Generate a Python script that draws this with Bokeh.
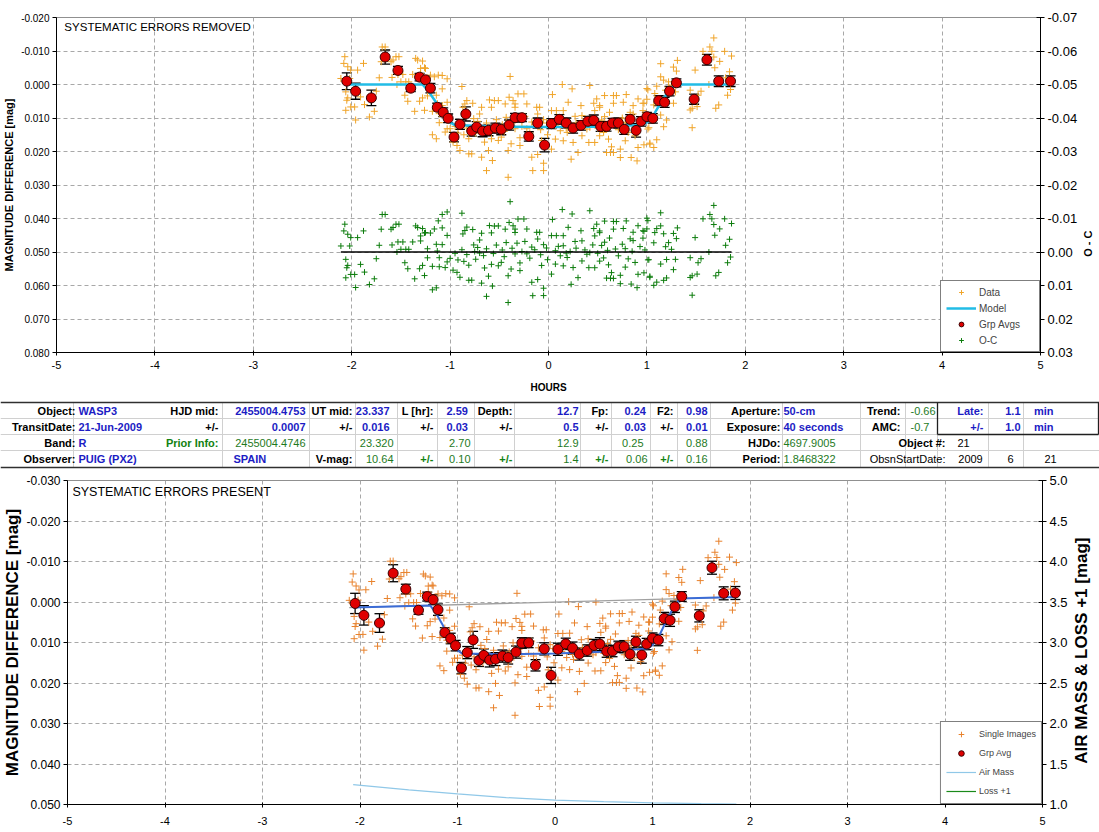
import math
import numpy as np
from bokeh.plotting import figure
from bokeh.models import (Range1d, LinearAxis, FixedTicker, NumeralTickFormatter,
                          Whisker, TeeHead, ColumnDataSource, Legend, LegendItem, Label)
from bokeh.layouts import column, row
from bokeh.embed import file_html
from bokeh.resources import INLINE
from bokeh.core.properties import value

# ---------------- DATA ----------------
# single images (systematic errors removed), hours from mid-transit, mmag
pre_hours = [-2.07, -2.08, -2.04, -2.01, -1.94, -1.88, -2.11, -2.02, -2.06, -2.04,
             -2.05, -2.01, -1.97, -2.06, -1.96, -1.91, -1.87, -1.82, -1.77, -1.75,
             -1.72, -1.69, -1.66, -1.70, -1.60, -1.58, -1.55, -1.52, -1.59, -1.53,
             -1.48, -1.54, -1.50, -1.45, -1.42, -1.38, -1.35, -1.33, -1.28, -1.30,
             -1.26, -1.25, -1.30, -1.20, -1.16, -1.12, -1.46, -1.43, -1.31, -1.28,
             -1.23, -1.36, -1.26, -1.18, -1.14, -1.13, -1.11, -1.11, -1.18, -1.14,
             -1.23]
pre_mmag = [-8.3, -6.3, -5.3, -4.3, -4.3, -6.3, -1.8, -1.8, 2.2, 4.0,
            4.7, 6.7, 6.7, 7.7, 10.6, 3.7, 6.0, 9.7, 8.0, 2.0,
            -2.0, -11.2, -11.2, -6.8, -6.8, -7.3, -8.3, -8.3, -2.1, -3.0,
            -3.0, 0.0, -0.8, -0.8, -0.8, -3.0, -7.8, -7.3, -7.0, -4.8,
            -5.0, -4.8, -3.3, -2.8, -2.3, -2.8, 3.2, 5.0, 5.0, 4.0,
            3.4, 8.0, 7.7, 8.0, 3.2, 5.7, 8.7, 11.4, 15.0, 16.2,
            0.7]
early_hours = [-1.08, -1.03, -1.08, -1.03, -1.08, -1.03, -1.05, -1.00, -0.97, -0.93,
               -0.90, -0.88, -0.87, -0.83, -0.85, -0.77, -0.76, -0.81, -0.78, -0.81,
               -0.75, -0.70, -0.68, -0.60, -0.58, -0.55, -0.51, -0.70, -0.65, -0.61,
               -0.58, -0.68, -0.57, -0.63, -0.51, -0.48, -0.44, -0.43, -0.39, -0.40,
               -0.36, -0.34, -0.31, -0.25, -0.22, -0.41, -0.38, -0.29, -0.34, -0.29,
               -0.22, -0.17, -0.17, -0.16, -0.41, -0.12, -0.09, -0.11, -0.05, -0.07,
               -0.11, -0.05, -0.05, -0.34,
               -0.95, -0.92, -0.88, -0.86, -0.83, -0.74, -0.72, -0.66, -0.63, -0.56,
               -0.53, -0.47, -0.45, -0.37, -0.32, -0.27, -0.24, -0.19, -0.14, -0.08,
               -0.02, -0.01]
early_mmag = [-2.7, -1.7, 1.3, 5.3, 6.3, 13.2, 14.2, 13.2, 17.2, 18.2,
              19.7, 0.6, 6.8, 4.8, 5.8, 5.6, 10.2, 16.2, 20.7, 20.7,
              12.2, 8.8, 6.8, 4.6, 6.8, 4.8, 4.8, 12.7, 17.2, 19.7,
              16.2, 21.7, 22.7, 25.7, 16.7, 15.7, 5.8, 9.8, -2.4, 3.8,
              4.8, 5.8, 2.8, 2.8, 5.8, 19.7, 17.7, 18.2, 13.2, 15.9,
              13.2, 11.2, 21.7, 25.7, 27.7, 6.8, 6.8, 8.8, 10.5, 16.7,
              20.9, 23.5, 25.7, 6.8,
              12.5, 14.5, 11.5, 15.0, 13.0, 14.5, 11.0, 13.5, 11.5, 13.0,
              10.5, 12.0, 14.0, 11.5, 10.0, 12.5, 9.5, 14.5, 12.0, 13.5,
              11.5, 15.0]
late_hours = [0.14, 0.42, 0.24, 0.04, 0.20, 0.33, 0.46, 0.49, 0.52, 0.57,
              0.66, 0.69, 0.66, 0.79, 0.91, 0.96, 1.01, 0.76, 0.86, 0.03,
              0.08, 0.15, 0.34, 0.47, 0.52, 0.57, 0.62, 0.83, 0.86, 0.96,
              0.07, 0.12, 0.07, 0.15, 0.19, 0.25, 0.34, 0.39, 0.41, 0.47,
              0.52, 0.56, 0.61, 0.64, 0.66, 0.73, 0.78, 0.81, 0.88, 0.91,
              0.84, 0.90, 0.73, 0.59, 0.63, 0.30, 0.23, 0.03, 0.15, 1.01,
              1.03, 0.54, 0.78, 0.98, 0.42,
              0.10, 0.22, 0.28, 0.37, 0.45, 0.50, 0.60, 0.68, 0.71, 0.75,
              0.85, 0.93, 0.27, 0.18]
late_mmag = [0.0, 0.3, 1.3, 3.0, 5.3, 6.3, 5.6, 4.3, 6.3, 3.3,
             3.3, 3.3, 5.6, 3.0, 4.3, 5.6, 1.6, 5.3, 6.3, 7.8,
             7.8, 7.8, 9.3, 7.8, 6.8, 9.6, 8.3, 8.3, 8.8, 7.8,
             12.3, 13.8, 16.3, 16.8, 14.3, 17.3, 15.3, 13.3, 17.3, 17.3,
             15.3, 14.3, 16.3, 18.6, 20.3, 19.3, 16.8, 14.3, 15.3, 18.8,
             21.8, 22.8, 21.8, 20.3, 20.3, 20.3, 22.3, 19.3, 10.8, 13.3,
             17.8, 10.6, 11.3, 11.0, 12.8,
             11.0, 12.5, 11.5, 12.0, 10.5, 13.0, 12.0, 11.5, 13.5, 10.0,
             12.0, 10.5, 9.5, 13.0]
post_hours = [1.68, 1.64, 1.66, 1.57, 1.79, 1.68, 1.74, 1.69, 1.84, 1.82,
              1.73, 1.70, 1.80, 1.49, 1.63, 1.44, 1.55, 1.52, 1.46, 1.44,
              1.51, 1.46, 1.14, 1.31, 1.27, 1.30, 1.14, 1.17, 1.22, 1.25,
              1.10, 1.00, 1.19, 1.08, 1.29, 1.00, 1.07, 1.20, 1.27, 0.97,
              1.14, 1.20, 1.17, 1.02, 1.10, 1.03, 1.07, 0.97, 1.86, 1.85]
post_mmag = [-13.9, -11.2, -9.9, -9.9, -9.9, -8.2, -6.9, -5.0, -3.8, 3.2,
             6.1, 7.1, -2.0, -4.3, 0.0, 1.7, 2.0, 3.2, 7.1, 7.6,
             6.6, 12.9, -6.2, -7.2, -5.2, -4.0, -2.3, -1.3, -0.8, 0.2,
             0.5, 1.2, 1.7, 2.7, 2.2, 4.4, 6.1, 5.1, 5.6, 5.6,
             9.1, 10.6, 12.6, 12.9, 16.5, 17.5, 18.8, 18.0, -8.5, 1.5]

# group averages (systematic errors removed), mmag
grp_hours = [-2.05, -1.96, -1.80, -1.66, -1.53, -1.40, -1.31, -1.25, -1.20, -1.13,
             -1.07, -1.02, -0.96, -0.90, -0.84, -0.78, -0.73, -0.67, -0.61, -0.54,
             -0.48, -0.40, -0.34, -0.27, -0.20, -0.11, -0.04, 0.03, 0.11, 0.18,
             0.25, 0.33, 0.40, 0.46, 0.53, 0.59, 0.65, 0.71, 0.77, 0.83,
             0.89, 0.94, 1.00, 1.06, 1.12, 1.18, 1.23, 1.30, 1.48, 1.61,
             1.73, 1.85]
grp_mmag = [-1.0, 2.0, 4.0, -8.2, -4.2, 1.1, -2.2, -1.4, 1.1, 6.8,
            8.3, 10.1, 15.7, 11.9, 8.8, 13.9, 12.7, 13.9, 13.7, 13.0,
            13.4, 12.1, 9.9, 9.9, 15.5, 11.5, 18.1, 11.7, 10.4, 11.5,
            13.0, 12.2, 11.0, 10.7, 12.5, 12.5, 11.5, 11.5, 13.4, 10.4,
            13.7, 11.0, 9.6, 10.1, 4.8, 5.3, 2.0, -0.5, 4.4, -7.4,
            -1.0, -1.0]
grp_err = [2.5, 2.4, 2.3, 2.1, 1.2, 1.0, 1.1, 1.2, 1.4, 1.2,
           1.3, 1.3, 1.4, 1.5, 2.1, 1.5, 1.6, 1.7, 1.6, 1.5,
           1.6, 1.5, 1.3, 1.2, 1.4, 1.5, 2.0, 1.5, 1.4, 1.5,
           1.5, 1.4, 1.5, 1.6, 1.5, 1.4, 1.4, 1.5, 1.5, 1.4,
           2.0, 1.4, 1.3, 1.4, 1.5, 1.5, 1.4, 1.2, 1.5, 1.6,
           1.6, 1.6]

# transit model, mmag
model_hours = [-2.07, -1.28, -1.22, -1.15, -1.08, -1.00, -0.95, -0.50, 0.00, 0.50,
               0.95, 1.00, 1.08, 1.15, 1.22, 1.28, 1.86]
model_mmag = [0.0, 0.0, 2.0, 5.0, 8.5, 11.3, 12.1, 12.6, 12.7, 12.6,
              12.1, 11.3, 8.5, 5.0, 2.0, 0.0, 0.0]

TREND = -0.66  # mmag per hour (systematic trend present in raw data)

airmass_hours = [-2.07, -1.5, -1.0, -0.5, 0.0, 0.5, 1.0, 1.5, 1.86]
airmass = [1.245, 1.18, 1.13, 1.085, 1.055, 1.035, 1.02, 1.01, 1.005]
loss_hours = [-2.07, 1.86]
loss = [0.0, 0.0]

x_ticks = [-5, -4, -3, -2, -1, 0, 1, 2, 3, 4, 5]
top_y_ticks = [-0.02, -0.01, 0.0, 0.01, 0.02, 0.03, 0.04, 0.05, 0.06, 0.07, 0.08]
oc_ticks = [-0.07, -0.06, -0.05, -0.04, -0.03, -0.02, -0.01, 0.0, 0.01, 0.02, 0.03]
bot_y_ticks = [-0.03, -0.02, -0.01, 0.0, 0.01, 0.02, 0.03, 0.04, 0.05]
am_ticks = [1.0, 1.5, 2.0, 2.5, 3.0, 3.5, 4.0, 4.5, 5.0]

TABLE_ROW1 = ["Object:", "WASP3", "HJD mid:", "2455004.4753", "UT mid:", "23.337", "L [hr]:", "2.59",
              "Depth:", "12.7", "Fp:", "0.24", "F2:", "0.98", "Aperture:", "50-cm", "Trend:", "-0.66",
              "Late:", "1.1", "min"]
TABLE_ROW2 = ["TransitDate:", "21-Jun-2009", "+/-", "0.0007", "+/-", "0.016", "+/-", "0.03",
              "+/-", "0.5", "+/-", "0.03", "+/-", "0.01", "Exposure:", "40 seconds", "AMC:", "-0.7",
              "+/-", "1.0", "min"]
TABLE_ROW3 = ["Band:", "R", "Prior Info:", "2455004.4746", "23.320", "2.70", "12.9", "0.25", "0.88",
              "HJDo:", "4697.9005", "Object #:", "21"]
TABLE_ROW4 = ["Observer:", "PUIG (PX2)", "SPAIN", "V-mag:", "10.64", "+/-", "0.10", "+/-", "1.4",
              "+/-", "0.06", "+/-", "0.16", "Period:", "1.8468322", "ObsnStartDate:", "2009", "6", "21"]

# ---------------- STYLE / LAYOUT ----------------
FONT = "Liberation Sans"
W = 1099
C_DATA = "#F0A428"
C_DATA2 = "#E8822C"
C_RED = "#E00000"
C_OC = "#0C7C0C"
C_MODEL = "#22BCE6"
C_MODEL2 = "#3B6CD6"
GRID = "#A8A8A8"

hours_all = np.array(pre_hours + early_hours + late_hours + post_hours)
mmag_all = np.array(pre_mmag + early_mmag + late_mmag + post_mmag)
mdl_h = np.array(model_hours)
mdl_m = np.array(model_mmag)
oc_all = mmag_all - np.interp(hours_all, mdl_h, mdl_m)
gh = np.array(grp_hours)
gm = np.array(grp_mmag)
ge = np.array(grp_err)


def style_common(p):
    p.xgrid.ticker = FixedTicker(ticks=x_ticks)
    p.grid.grid_line_color = GRID
    p.grid.grid_line_dash = "4 3"
    p.grid.grid_line_width = 1
    p.outline_line_color = "#909090"
    p.background_fill_color = "white"
    p.border_fill_color = "white"


def style_axis(ax, tick_size, label_size, tin=0, tout=4, standoff=3):
    ax.major_label_text_font = FONT
    ax.major_label_text_font_size = tick_size
    ax.major_label_text_color = "black"
    ax.axis_label_text_font = FONT
    ax.axis_label_text_font_size = label_size
    ax.axis_label_text_font_style = "bold"
    ax.axis_label_text_color = "black"
    ax.axis_line_color = "black"
    ax.major_tick_line_color = "black"
    ax.major_tick_in = tin
    ax.major_tick_out = tout
    ax.minor_tick_line_color = None
    ax.major_label_standoff = standoff


def side_label(width, height, btop, bbot, yr, ylab, text, size, xc):
    """narrow companion figure carrying an upward-reading axis title"""
    f = figure(width=width, height=height, x_range=Range1d(0, width), y_range=yr,
               output_backend="svg", toolbar_location=None, x_axis_type=None, y_axis_type=None,
               min_border_left=0, min_border_right=0, min_border_top=btop, min_border_bottom=bbot)
    f.grid.visible = False
    f.outline_line_color = None
    f.text(x=[xc], y=[ylab], text=[text], angle=math.pi / 2, text_font=value(FONT),
           text_font_size=value(size), text_font_style="bold", text_color="black",
           text_align="center", text_baseline="middle")
    return f


# ---------- top figure ----------
TOPH = 398
TOPW = 1080
top = figure(width=TOPW, height=TOPH, x_range=Range1d(-5, 5), y_range=Range1d(0.08, -0.02),
             output_backend="svg", toolbar_location=None,
             min_border_left=52, min_border_right=40, min_border_top=17, min_border_bottom=46)
top.extra_y_ranges = {"oc": Range1d(0.03, -0.07)}
style_common(top)
top.xaxis.ticker = FixedTicker(ticks=x_ticks)
top.xaxis.formatter = NumeralTickFormatter(format="0")
top.xaxis.axis_label = "HOURS"
top.xaxis.axis_label_standoff = 10
style_axis(top.xaxis[0], "11px", "10px", 2, 3, 5)
top.yaxis.ticker = FixedTicker(ticks=top_y_ticks)
top.ygrid.ticker = FixedTicker(ticks=top_y_ticks)
top.yaxis.formatter = NumeralTickFormatter(format="0.000")
top.yaxis.axis_label = "MAGNITUDE DIFFERENCE [mag]"
top.yaxis.axis_label_standoff = 3
style_axis(top.yaxis[0], "10px", "11px", 0, 4)
oc_axis = LinearAxis(y_range_name="oc", ticker=FixedTicker(ticks=oc_ticks),
                     formatter=NumeralTickFormatter(format="0.00"))
style_axis(oc_axis, "13px", "11px", 4, 4)
top.add_layout(oc_axis, "right")

r_data = top.scatter(hours_all, mmag_all / 1000.0, marker="cross", size=7,
                     line_color=C_DATA, line_width=1)
r_oc = top.scatter(hours_all, oc_all / 1000.0, marker="cross", size=6,
                   line_color=C_OC, line_width=1, y_range_name="oc")
top.line([hours_all.min(), hours_all.max()], [0.0, 0.0], y_range_name="oc",
         line_color="black", line_width=1.5)
r_model = top.line(mdl_h, mdl_m / 1000.0, line_color=C_MODEL, line_width=2.5)
src_top = ColumnDataSource(dict(x=gh, y=gm / 1000.0, lo=(gm - ge) / 1000.0, hi=(gm + ge) / 1000.0))
top.add_layout(Whisker(source=src_top, base="x", upper="hi", lower="lo",
                       line_color="black", line_width=1.3,
                       upper_head=TeeHead(size=10, line_color="black", line_width=1.3),
                       lower_head=TeeHead(size=10, line_color="black", line_width=1.3)))
r_grp = top.scatter("x", "y", source=src_top, size=10, fill_color=C_RED,
                    line_color="#3A0000", line_width=1)
top.add_layout(Label(x=-4.92, y=-0.0173, text="SYSTEMATIC ERRORS REMOVED",
                     text_font=FONT, text_font_size="11.5px", text_baseline="middle",
                     text_color="black"))
leg1 = Legend(items=[LegendItem(label="Data", renderers=[r_data]),
                     LegendItem(label="Model", renderers=[r_model]),
                     LegendItem(label="Grp Avgs", renderers=[r_grp]),
                     LegendItem(label="O-C", renderers=[r_oc])],
              location="bottom_right", margin=0, padding=5, spacing=4,
              glyph_width=30, glyph_height=12, label_height=12, label_width=55,
              label_standoff=3, label_text_font=FONT, label_text_font_size="10px",
              border_line_color="black", border_line_width=1, background_fill_alpha=1)
top.add_layout(leg1)
top_lab = side_label(W - TOPW, TOPH, 17, 46, Range1d(0.08, -0.02), 0.0475, "O - C", "11px", 7)

# ---------- table ----------
TH = 72
tbl = figure(width=W, height=TH, x_range=Range1d(0, W), y_range=Range1d(TH, 0),
             output_backend="svg", toolbar_location=None, x_axis_type=None, y_axis_type=None,
             min_border_left=0, min_border_right=0, min_border_top=0, min_border_bottom=0)
tbl.grid.visible = False
tbl.outline_line_color = None

row_y = [12, 28, 44, 60]
hl = [4, 20, 36, 52, 69]
R1 = [(75, "right", "L"), (78, "left", "B"), (218, "right", "L"), (305, "right", "B"),
      (352, "right", "L"), (389, "right", "B"), (433, "right", "L"), (446, "left", "B"),
      (512, "right", "L"), (578, "right", "B"), (608, "right", "L"), (624, "left", "B"),
      (673, "right", "L"), (707, "right", "B"), (780, "right", "L"), (783, "left", "B"),
      (900, "right", "L"), (910, "left", "G"), (983, "right", "B"), (1020, "right", "B"),
      (1053, "right", "B")]
R3 = [(75, "right", "L"), (78, "left", "B"), (218, "right", "GB"), (305, "right", "G"),
      (393, "right", "G"), (470, "right", "G"), (578, "right", "G"), (643, "right", "G"),
      (707, "right", "G"), (780, "right", "L"), (783, "left", "G"), (945, "right", "L"),
      (957, "left", "K")]
R4 = [(75, "right", "L"), (78, "left", "B"), (233, "left", "B"), (352, "right", "L"),
      (393, "right", "G"), (433, "right", "GB"), (470, "right", "G"), (512, "right", "GB"),
      (578, "right", "G"), (608, "right", "GB"), (647, "right", "G"), (673, "right", "GB"),
      (707, "right", "G"), (780, "right", "L"), (783, "left", "G"), (945, "right", "K"),
      (970, "center", "K"), (1010, "center", "K"), (1050, "center", "K")]
STY = {"L": ("black", "bold"), "B": ("#1C1CC4", "bold"), "G": ("#1E7A1E", "normal"),
       "GB": ("#128212", "bold"), "K": ("black", "normal")}

cells = {}
for texts, lay, yy in [(TABLE_ROW1, R1, row_y[0]), (TABLE_ROW2, R1, row_y[1]),
                       (TABLE_ROW3, R3, row_y[2]), (TABLE_ROW4, R4, row_y[3])]:
    for t, (xr, al, st) in zip(texts, lay):
        cells.setdefault((al, st), {"x": [], "y": [], "t": []})
        cells[(al, st)]["x"].append(xr)
        cells[(al, st)]["y"].append(yy)
        cells[(al, st)]["t"].append(t)

vx = [73, 222, 309, 355, 397, 437, 474, 514, 580, 611, 650, 677, 710, 782, 860, 905, 988, 1023]
tbl.segment(x0=vx, y0=[hl[0]] * len(vx), x1=vx, y1=[hl[4]] * len(vx),
            line_color="#D0D0D0", line_width=1)
tbl.segment(x0=[937], y0=[hl[2]], x1=[937], y1=[hl[4]], line_color="#D0D0D0")
tbl.segment(x0=[0, 0, 0], y0=hl[1:4], x1=[W, W, W], y1=hl[1:4],
            line_color="#D0D0D0", line_width=1)
tbl.segment(x0=[0, 0], y0=[hl[0], hl[4]], x1=[W, W], y1=[hl[0], hl[4]],
            line_color="#303030", line_width=1.3)
tbl.segment(x0=[937, 937], y0=[hl[0], hl[2]], x1=[937, W - 1], y1=[hl[2], hl[2]],
            line_color="#202020", line_width=1.3)
tbl.segment(x0=[W - 1], y0=[hl[0]], x1=[W - 1], y1=[hl[2]], line_color="#202020", line_width=1.3)

for (al, st), d in cells.items():
    col, fs = STY[st]
    tbl.text(x=d["x"], y=d["y"], text=d["t"], text_font=value(FONT),
             text_font_size=value("11px"), text_color=col, text_font_style=fs,
             text_align=al, text_baseline="middle")

# ---------- bottom figure ----------
BOTH = 832 - TOPH - TH
BOTW = 1070
bot = figure(width=BOTW, height=BOTH, x_range=Range1d(-5, 5), y_range=Range1d(0.05, -0.03),
             output_backend="svg", toolbar_location=None,
             min_border_left=66, min_border_right=27, min_border_top=10, min_border_bottom=28)
bot.extra_y_ranges = {"am": Range1d(1.0, 5.0)}
style_common(bot)
bot.xaxis.ticker = FixedTicker(ticks=x_ticks)
bot.xaxis.formatter = NumeralTickFormatter(format="0")
style_axis(bot.xaxis[0], "11px", "11px", 2, 3, 9)
bot.yaxis.ticker = FixedTicker(ticks=bot_y_ticks)
bot.ygrid.ticker = FixedTicker(ticks=bot_y_ticks)
bot.yaxis.formatter = NumeralTickFormatter(format="0.000")
bot.yaxis.axis_label = "MAGNITUDE DIFFERENCE [mag]"
bot.yaxis.axis_label_standoff = 1
style_axis(bot.yaxis[0], "12px", "17px", 0, 4)
am_axis = LinearAxis(y_range_name="am", ticker=FixedTicker(ticks=am_ticks),
                     formatter=NumeralTickFormatter(format="0.0"))
style_axis(am_axis, "13px", "16px", 4, 4)
bot.add_layout(am_axis, "right")

raw_all = mmag_all + TREND * hours_all
r_single = bot.scatter(hours_all, raw_all / 1000.0, marker="cross", size=7,
                       line_color=C_DATA2, line_width=1)
trend_h = np.array([hours_all.min(), hours_all.max()])
bot.line(trend_h, TREND * trend_h / 1000.0, line_color="#A0A0A0", line_width=1.3)
bot.line(mdl_h, (mdl_m + TREND * mdl_h) / 1000.0, line_color=C_MODEL2, line_width=2)
r_am = bot.line(airmass_hours, airmass, y_range_name="am", line_color="#90C8E8", line_width=1.2)
r_loss = bot.line(loss_hours, np.array(loss) + 1.0, y_range_name="am", line_color="#1A8A1A",
                  line_width=1.2)
gb = gm + TREND * gh
src_bot = ColumnDataSource(dict(x=gh, y=gb / 1000.0, lo=(gb - ge) / 1000.0, hi=(gb + ge) / 1000.0))
bot.add_layout(Whisker(source=src_bot, base="x", upper="hi", lower="lo",
                       line_color="black", line_width=1.3,
                       upper_head=TeeHead(size=10, line_color="black", line_width=1.3),
                       lower_head=TeeHead(size=10, line_color="black", line_width=1.3)))
r_gavg = bot.scatter("x", "y", source=src_bot, size=10, fill_color=C_RED,
                     line_color="#3A0000", line_width=1)
bot.add_layout(Label(x=-4.95, y=-0.0272, text="SYSTEMATIC ERRORS PRESENT",
                     text_font=FONT, text_font_size="12.5px", text_baseline="middle",
                     text_color="black"))
leg2 = Legend(items=[LegendItem(label="Single Images", renderers=[r_single]),
                     LegendItem(label="Grp Avg", renderers=[r_gavg]),
                     LegendItem(label="Air Mass", renderers=[r_am]),
                     LegendItem(label="Loss +1", renderers=[r_loss])],
              location="bottom_right", margin=0, padding=5, spacing=5,
              glyph_width=30, glyph_height=14, label_height=14, label_width=56,
              label_standoff=3, label_text_font=FONT, label_text_font_size="9px",
              border_line_color="black", border_line_width=1, background_fill_alpha=1)
bot.add_layout(leg2)
bot_lab = side_label(W - BOTW, BOTH, 10, 28, Range1d(0.05, -0.03), 0.012,
                     "AIR MASS & LOSS +1 [mag]", "17px", 11)

layout = column(row(top, top_lab), row(tbl), row(bot, bot_lab))
open("out.html", "w").write(file_html(layout, INLINE))
